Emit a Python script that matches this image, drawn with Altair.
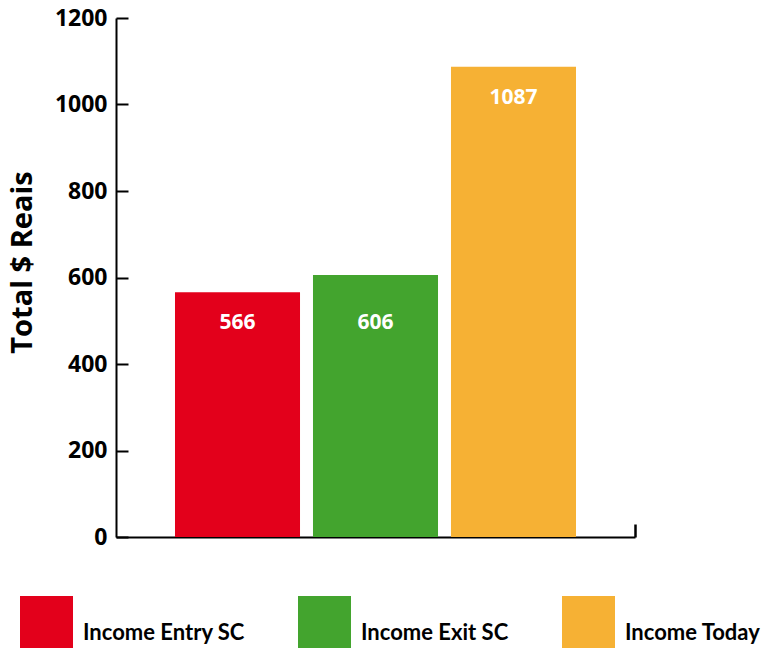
import altair as alt
import pandas as pd

categories = ["Income Entry SC", "Income Exit SC", "Income Today"]
values = [566, 606, 1087]
colors = ["#E3001B", "#43A42E", "#F6B134"]
y_ticks = [0, 200, 400, 600, 800, 1000, 1200]

df = pd.DataFrame({"category": categories, "value": values})

x_enc = alt.X(
    "category:N",
    sort=categories,
    scale=alt.Scale(paddingInner=0.094, paddingOuter=0.4275),
    axis=alt.Axis(
        labels=False,
        title=None,
        domainColor="#000000",
        domainWidth=2,
        tickColor="#000000",
        tickWidth=2.5,
        tickSize={"expr": "-13"},
        bandPosition=1,
        tickOffset=59,
        tickOpacity={"condition": {"test": "datum.value == 'Income Today'", "value": 1}, "value": 0},
    ),
)

y_enc = alt.Y(
    "value:Q",
    scale=alt.Scale(domain=[0, 1200], nice=False),
    axis=alt.Axis(
        values=y_ticks,
        format="d",
        grid=False,
        title="Total $ Reais",
        titleFont="Open Sans",
        titleFontSize=29,
        titleFontWeight="bold",
        titleColor="#000000",
        titleAngle=-90,
        titleX=-94,
        titleY=244,
        titleAlign="center",
        titleBaseline="middle",
        labelFont="Open Sans",
        labelFontSize=23,
        labelFontWeight="bold",
        labelColor="#000000",
        labelPadding=21,
        tickSize={"expr": "-12"},
        tickColor="#000000",
        tickWidth=2,
        domainColor="#000000",
        domainWidth=2,
    ),
)

color_enc = alt.Color(
    "category:N",
    sort=categories,
    scale=alt.Scale(domain=categories, range=colors),
    legend=alt.Legend(
        title=None,
        orient="none",
        legendX=-96,
        legendY=578,
        direction="horizontal",
        symbolType="square",
        symbolSize=2809,
        symbolStrokeWidth=0,
        symbolOpacity=1,
        labelFont="Lato",
        labelFontSize=22,
        labelFontWeight="bold",
        labelColor="#000000",
        labelBaseline="top",
        labelOffset=10,
        labelLimit=400,
        columnPadding=53,
    ),
)

base = alt.Chart(df).encode(x=x_enc, y=y_enc)

bars = base.mark_bar().encode(color=color_enc)

label_style = dict(color="white", font="Open Sans", fontSize=21, fontWeight="bold", baseline="middle")
labels_main = (
    base.transform_filter(alt.datum.category != "Income Exit SC")
    .mark_text(dy=31, **label_style)
    .encode(text="value:Q")
)
labels_exit = (
    base.transform_filter(alt.datum.category == "Income Exit SC")
    .mark_text(dy=48, **label_style)
    .encode(text="value:Q")
)

chart = (
    alt.layer(bars, labels_main, labels_exit)
    .properties(
        width=519,
        height=519,
        autosize=alt.AutoSizeParams(type="none"),
        padding={"left": 116, "top": 18, "right": 129, "bottom": 111},
        background="white",
    )
    .configure_view(stroke=None)
)

chart.save("out.html", embed_options={"renderer": "svg", "actions": False})
